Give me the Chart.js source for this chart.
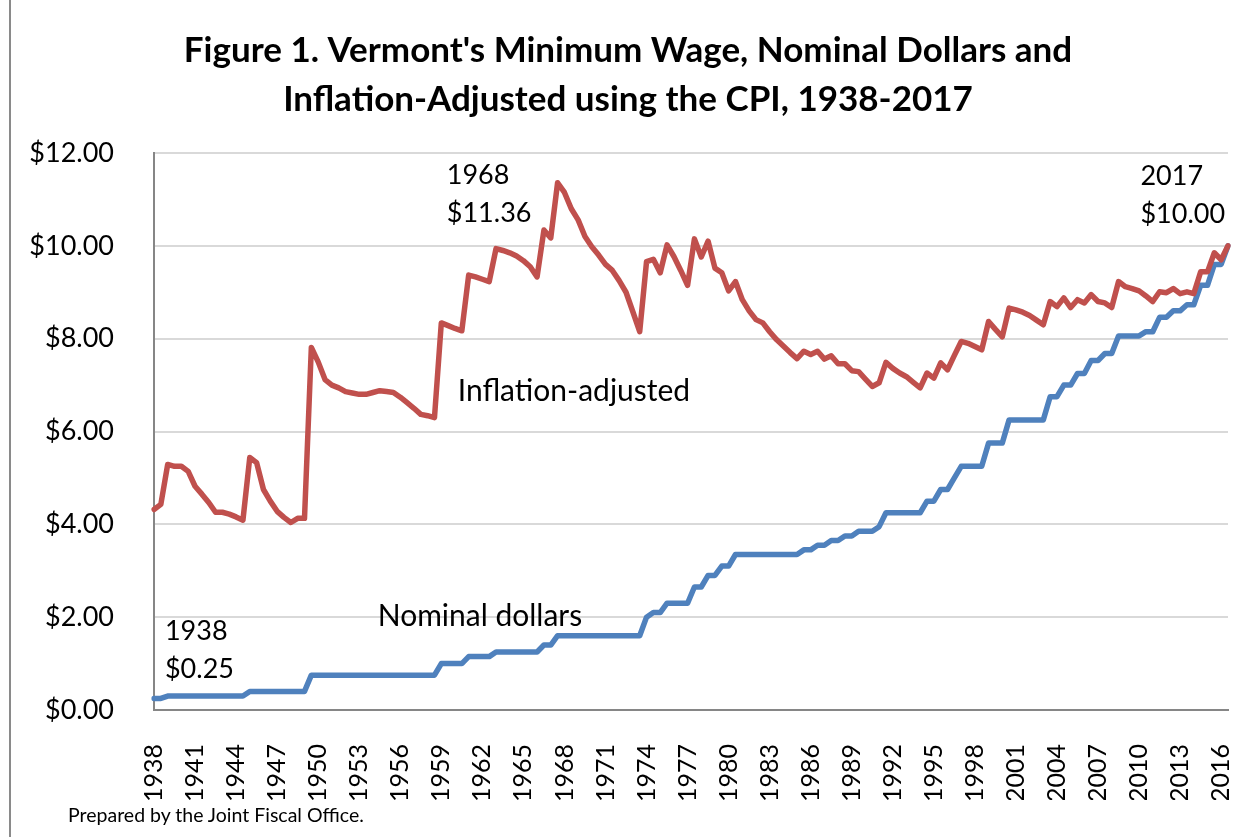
<!DOCTYPE html>
<html>
<head>
<meta charset="utf-8">
<script src="https://cdn.jsdelivr.net/npm/chart.js@4.4.1/dist/chart.umd.min.js"></script>
<style>
  body { margin: 0; background: #fff; }
  #wrap { position: relative; width: 1259px; height: 837px; overflow: hidden; }
  #frame { position: absolute; left: 9px; top: 0; width: 2px; height: 837px; background: #8a8a8a; }
  #foot { position: absolute; left: 68px; top: 803px; font: 19.5px Lato, sans-serif; color: #000; }
</style>
</head>
<body>
<div id="wrap">
  <canvas id="wageChart" width="1259" height="837"></canvas>
  <div id="frame"></div>
  <div id="foot">Prepared by the Joint Fiscal Office.</div>
</div>
<script>
// half-year periods, 1938 through 2016.5
const periods = [
  1938,1938.5,1939,1939.5,1940,1940.5,1941,1941.5,1942,1942.5,
  1943,1943.5,1944,1944.5,1945,1945.5,1946,1946.5,1947,1947.5,
  1948,1948.5,1949,1949.5,1950,1950.5,1951,1951.5,1952,1952.5,
  1953,1953.5,1954,1954.5,1955,1955.5,1956,1956.5,1957,1957.5,
  1958,1958.5,1959,1959.5,1960,1960.5,1961,1961.5,1962,1962.5,
  1963,1963.5,1964,1964.5,1965,1965.5,1966,1966.5,1967,1967.5,
  1968,1968.5,1969,1969.5,1970,1970.5,1971,1971.5,1972,1972.5,
  1973,1973.5,1974,1974.5,1975,1975.5,1976,1976.5,1977,1977.5,
  1978,1978.5,1979,1979.5,1980,1980.5,1981,1981.5,1982,1982.5,
  1983,1983.5,1984,1984.5,1985,1985.5,1986,1986.5,1987,1987.5,
  1988,1988.5,1989,1989.5,1990,1990.5,1991,1991.5,1992,1992.5,
  1993,1993.5,1994,1994.5,1995,1995.5,1996,1996.5,1997,1997.5,
  1998,1998.5,1999,1999.5,2000,2000.5,2001,2001.5,2002,2002.5,
  2003,2003.5,2004,2004.5,2005,2005.5,2006,2006.5,2007,2007.5,
  2008,2008.5,2009,2009.5,2010,2010.5,2011,2011.5,2012,2012.5,
  2013,2013.5,2014,2014.5,2015,2015.5,2016,2016.5
];

// nominal minimum wage ($)
const nominal = [
  0.25,0.25,0.30,0.30,0.30,0.30,0.30,0.30,0.30,0.30,
  0.30,0.30,0.30,0.30,0.40,0.40,0.40,0.40,0.40,0.40,
  0.40,0.40,0.40,0.75,0.75,0.75,0.75,0.75,0.75,0.75,
  0.75,0.75,0.75,0.75,0.75,0.75,0.75,0.75,0.75,0.75,
  0.75,0.75,1.00,1.00,1.00,1.00,1.15,1.15,1.15,1.15,
  1.25,1.25,1.25,1.25,1.25,1.25,1.25,1.40,1.40,1.60,
  1.60,1.60,1.60,1.60,1.60,1.60,1.60,1.60,1.60,1.60,
  1.60,1.60,2.00,2.10,2.10,2.30,2.30,2.30,2.30,2.65,
  2.65,2.90,2.90,3.10,3.10,3.35,3.35,3.35,3.35,3.35,
  3.35,3.35,3.35,3.35,3.35,3.45,3.45,3.55,3.55,3.65,
  3.65,3.75,3.75,3.85,3.85,3.85,3.95,4.25,4.25,4.25,
  4.25,4.25,4.25,4.50,4.50,4.75,4.75,5.00,5.25,5.25,
  5.25,5.25,5.75,5.75,5.75,6.25,6.25,6.25,6.25,6.25,
  6.25,6.75,6.75,7.00,7.00,7.25,7.25,7.53,7.53,7.68,
  7.68,8.06,8.06,8.06,8.06,8.15,8.15,8.46,8.46,8.60,
  8.60,8.73,8.73,9.15,9.15,9.60,9.60,10.00
];

// inflation-adjusted (CPI, 2017 dollars)
const adjusted = [
  4.32,4.43,5.29,5.25,5.25,5.14,4.82,4.65,4.47,4.26,
  4.26,4.22,4.16,4.09,5.44,5.33,4.75,4.50,4.28,4.15,
  4.04,4.13,4.13,7.81,7.50,7.12,7.00,6.94,6.86,6.83,
  6.80,6.80,6.84,6.88,6.86,6.84,6.74,6.62,6.50,6.37,
  6.34,6.30,8.34,8.28,8.22,8.17,9.37,9.33,9.28,9.23,
  9.94,9.90,9.85,9.78,9.68,9.55,9.33,10.34,10.17,11.36,
  11.15,10.80,10.56,10.20,9.98,9.80,9.60,9.47,9.25,9.00,
  8.58,8.15,9.66,9.71,9.42,10.02,9.77,9.47,9.15,10.15,
  9.76,10.10,9.52,9.42,9.03,9.23,8.84,8.60,8.41,8.34,
  8.15,7.98,7.84,7.70,7.57,7.73,7.66,7.73,7.56,7.63,
  7.46,7.46,7.31,7.29,7.13,6.97,7.05,7.49,7.36,7.26,
  7.18,7.06,6.94,7.26,7.15,7.48,7.33,7.64,7.94,7.90,
  7.83,7.76,8.37,8.20,8.04,8.66,8.62,8.57,8.50,8.40,
  8.30,8.80,8.69,8.88,8.67,8.84,8.77,8.95,8.80,8.77,
  8.67,9.23,9.12,9.08,9.03,8.92,8.80,9.01,8.99,9.08,
  8.97,9.01,8.97,9.44,9.44,9.85,9.70,10.00
];

const yTicks = [0, 2, 4, 6, 8, 10, 12];

// text notes: [lines, period index, value, font size]
const notes = [
  { lines: ['1968', '$11.36'], at: 42.8, val: 11.53, size: 27 },
  { lines: ['2017', '$10.00'], at: 144.2, val: 11.50, size: 27 },
  { lines: ['1938', '$0.25'], at: 1.6, val: 1.70, size: 27 },
  { lines: ['Inflation-adjusted'], at: 44.4, val: 6.86, size: 30 },
  { lines: ['Nominal dollars'], at: 32.7, val: 2.02, size: 30 }
];

const notePlugin = {
  id: 'notes',
  afterDatasetsDraw(chart) {
    const { ctx, scales: { x, y } } = chart;
    ctx.save();
    ctx.fillStyle = '#000';
    ctx.textAlign = 'left';
    ctx.textBaseline = 'middle';
    notes.forEach(n => {
      ctx.font = n.size + 'px Lato, sans-serif';
      const px = x.getPixelForValue(n.at);
      const py = y.getPixelForValue(n.val);
      n.lines.forEach((t, i) => ctx.fillText(t, px, py + i * 38));
    });
    ctx.restore();
  }
};

new Chart(document.getElementById('wageChart'), {
  type: 'line',
  data: {
    labels: periods,
    datasets: [
      { label: 'Inflation-adjusted', data: adjusted, borderColor: '#C0504D', borderWidth: 5.5 },
      { label: 'Nominal dollars', data: nominal, borderColor: '#4F81BD', borderWidth: 5.5 }
    ]
  },
  options: {
    responsive: false,
    animation: false,
    elements: { point: { radius: 0 }, line: { tension: 0, borderJoinStyle: 'round', borderCapStyle: 'round' } },
    layout: { padding: { left: 28, right: 31, top: 0, bottom: 37 } },
    plugins: {
      legend: { display: false },
      tooltip: { enabled: false },
      title: {
        display: true,
        text: ["Figure 1. Vermont's Minimum Wage, Nominal Dollars and", 'Inflation-Adjusted using the CPI, 1938-2017'],
        color: '#000',
        font: { family: 'Lato, sans-serif', size: 35, weight: 'bold', lineHeight: 1.4 },
        padding: { top: 26, bottom: 29 }
      }
    },
    scales: {
      x: {
        type: 'category',
        offset: false,
        grid: { display: false, drawTicks: false },
        border: { display: true, color: '#868686', width: 2 },
        afterFit: s => { s.height = 90; s.paddingLeft = 0; s.paddingRight = 0; },
        ticks: {
          autoSkip: false,
          minRotation: 90,
          maxRotation: 90,
          padding: 34,
          color: '#000',
          font: { family: 'Lato, sans-serif', size: 25 },
          callback: (v, i) => (i % 6 === 0 ? String(periods[i]) : '')
        }
      },
      y: {
        min: 0,
        max: 12,
        afterFit: s => { s.width = 126; },
        afterBuildTicks: s => { s.ticks = yTicks.map(v => ({ value: v })); },
        grid: { color: '#D9D9D9', lineWidth: 2, drawTicks: false },
        border: { display: true, color: '#868686', width: 2 },
        ticks: {
          padding: 40,
          color: '#000',
          font: { family: 'Lato, sans-serif', size: 27 },
          callback: v => '$' + Number(v).toFixed(2)
        }
      }
    }
  },
  plugins: [notePlugin]
});
</script>
</body>
</html>
